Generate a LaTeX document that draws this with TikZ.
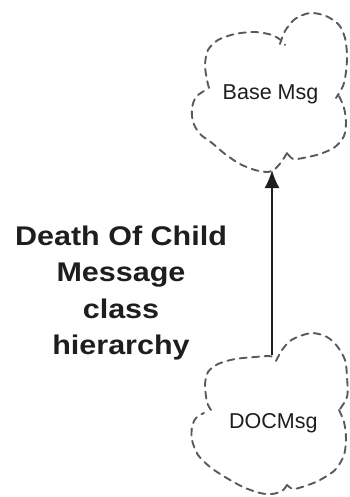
\documentclass[tikz,border=0pt]{standalone}
\usepackage{fontspec}
\setmainfont{Liberation Sans}
\newfontfamily\headfont{Liberation Sans}[FakeStretch=1.13]
\usetikzlibrary{arrows.meta}
\definecolor{cloudgray}{HTML}{5A5A5A}
\definecolor{inkdark}{HTML}{1E1E1E}
\tikzset{
  cloudline/.style={draw=cloudgray, line width=1.9pt, dash pattern=on 7pt off 5.5pt, line cap=round, line join=round},
  classname/.style={inner sep=0pt, anchor=base, text=inkdark, font=\fontsize{21.5pt}{24pt}\selectfont},
  heading/.style={inner sep=0pt, anchor=north, align=center, text=inkdark,
    font=\headfont\bfseries\fontsize{27pt}{36.5pt}\selectfont},
  inherit/.style={draw=inkdark, line width=2pt, -{Latex[length=18pt,width=15pt]}}
}
\begin{document}
\begin{tikzpicture}[x=1pt,y=-1pt]
\useasboundingbox[fill=white] (0,0) rectangle (349,497);

% Base Msg class cloud, drawn as four scalloped arcs
\draw[cloudline] plot[smooth] coordinates {(209,88) (207,80) (205,65) (208,50) (218,40) (235,34) (255,32) (272,35) (282,41) (285,45)};
\draw[cloudline] plot[smooth] coordinates {(280,44) (285,31) (295,19) (310,13) (326,16) (339,25) (345,38) (347,55) (346,72) (343,86) (336,98)};
\draw[cloudline] plot[smooth] coordinates {(339,96) (344,108) (346,122) (344,136) (335,147) (320,154) (303,158) (293,159) (287,153)};
\draw[cloudline] plot[smooth] coordinates {(287,153) (282,161) (275,169) (268,172) (255,170) (240,164) (225,154) (212,143) (200,134) (193,122) (192,108) (196,97) (204,91)};

% DOCMsg class cloud
\draw[cloudline] plot[smooth] coordinates {(211,410) (207,402) (205,385) (208,372) (218,364) (235,359) (255,357) (268,356) (275,357)};
\draw[cloudline] plot[smooth] coordinates {(276,361) (282,350) (290,341) (300,336) (313,333) (327,337) (337,346) (345,360) (347,377) (347,397) (337,413)};
\draw[cloudline] plot[smooth] coordinates {(339,410) (344,422) (346,438) (344,455) (335,470) (318,481) (302,487) (293,489) (287,485)};
\draw[cloudline] plot[smooth] coordinates {(287,485) (282,491) (272,494) (260,493) (243,487) (225,477) (210,467) (198,455) (192,440) (192,427) (196,418) (204,413)};

% class names
\node[classname] (base) at (270.5,100) {Base Msg};
\node[classname] (doc) at (273.3,428) {DOCMsg};

% inheritance relation: DOCMsg is derived from Base Msg
\coordinate (doc-top) at (272,355);
\coordinate (base-bottom) at (272,170);
\draw[inherit] (doc-top) -- (base-bottom);

% title
\node[heading] (title) at (121,225.5) {Death Of Child\\Message\\class\\hierarchy};
\end{tikzpicture}
\end{document}
